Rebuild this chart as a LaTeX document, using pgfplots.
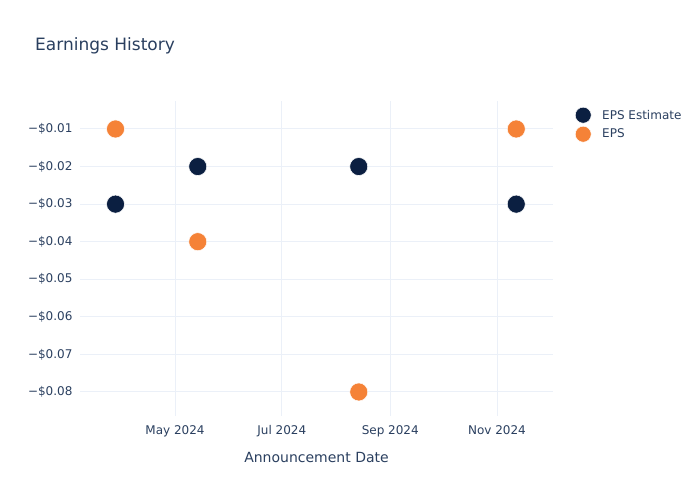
\documentclass[border=0pt]{standalone}
\usepackage{pgfplots}
\pgfplotsset{compat=1.18}
\usepackage{fontspec}
\setmainfont{DejaVu Sans}
\definecolor{txt}{HTML}{2A3F5F}
\definecolor{gridc}{HTML}{EBF0F8}
\definecolor{navy}{HTML}{0B1F41}
\definecolor{orng}{HTML}{F58237}
\begin{document}
\begin{tikzpicture}[x=1pt,y=1pt]
\path (0,0) rectangle (700,500);
\node[anchor=west,inner sep=0pt,text=txt,font=\fontsize{17}{20}\selectfont] at (35,454) {Earnings History};
\begin{axis}[
    at={(80pt,84pt)}, anchor=south west,
    scale only axis,
    width=473pt, height=315pt,
    xmin=-54.3, xmax=216,
    ymin=-0.0864, ymax=-0.00255,
    scaled y ticks=false,
    axis line style={draw=none},
    major tick length=0pt,
    grid=major,
    grid style={gridc, line width=1pt},
    xtick={0,61,123,184},
    xticklabels={May 2024,Jul 2024,Sep 2024,Nov 2024},
    ytick={-0.08,-0.07,-0.06,-0.05,-0.04,-0.03,-0.02,-0.01},
    yticklabels={−\$0.08,−\$0.07,−\$0.06,−\$0.05,−\$0.04,−\$0.03,−\$0.02,−\$0.01},
    ticklabel style={text=txt, font=\fontsize{12}{14}\selectfont},
    xticklabel style={yshift=-6pt},
    yticklabel style={xshift=-4pt},
    xlabel={Announcement Date},
    xlabel style={text=txt, font=\fontsize{14}{16}\selectfont, yshift=-8pt},
    legend image code/.code={\draw[#1, mark size=8pt] plot coordinates {(0pt,0pt)};},
    legend style={draw=none, fill=none, at={(1.0,1.0)}, anchor=north west,
        xshift=19pt, yshift=-4pt,
        font=\fontsize{12}{14}\selectfont, text=txt, row sep=3pt,
        nodes={inner xsep=11pt}},
    legend cell align=left,
    clip=false,
]
\addplot[only marks, mark=*, mark size=9pt, mark options={fill=navy, draw=white, line width=0.5pt}]
    coordinates {(-34,-0.03) (13,-0.02) (105,-0.02) (195,-0.03)};
\addlegendentry{EPS Estimate}
\addplot[only marks, mark=*, mark size=9pt, mark options={fill=orng, draw=white, line width=0.5pt}]
    coordinates {(-34,-0.01) (13,-0.04) (105,-0.08) (195,-0.01)};
\addlegendentry{EPS}
\end{axis}
\end{tikzpicture}
\end{document}
